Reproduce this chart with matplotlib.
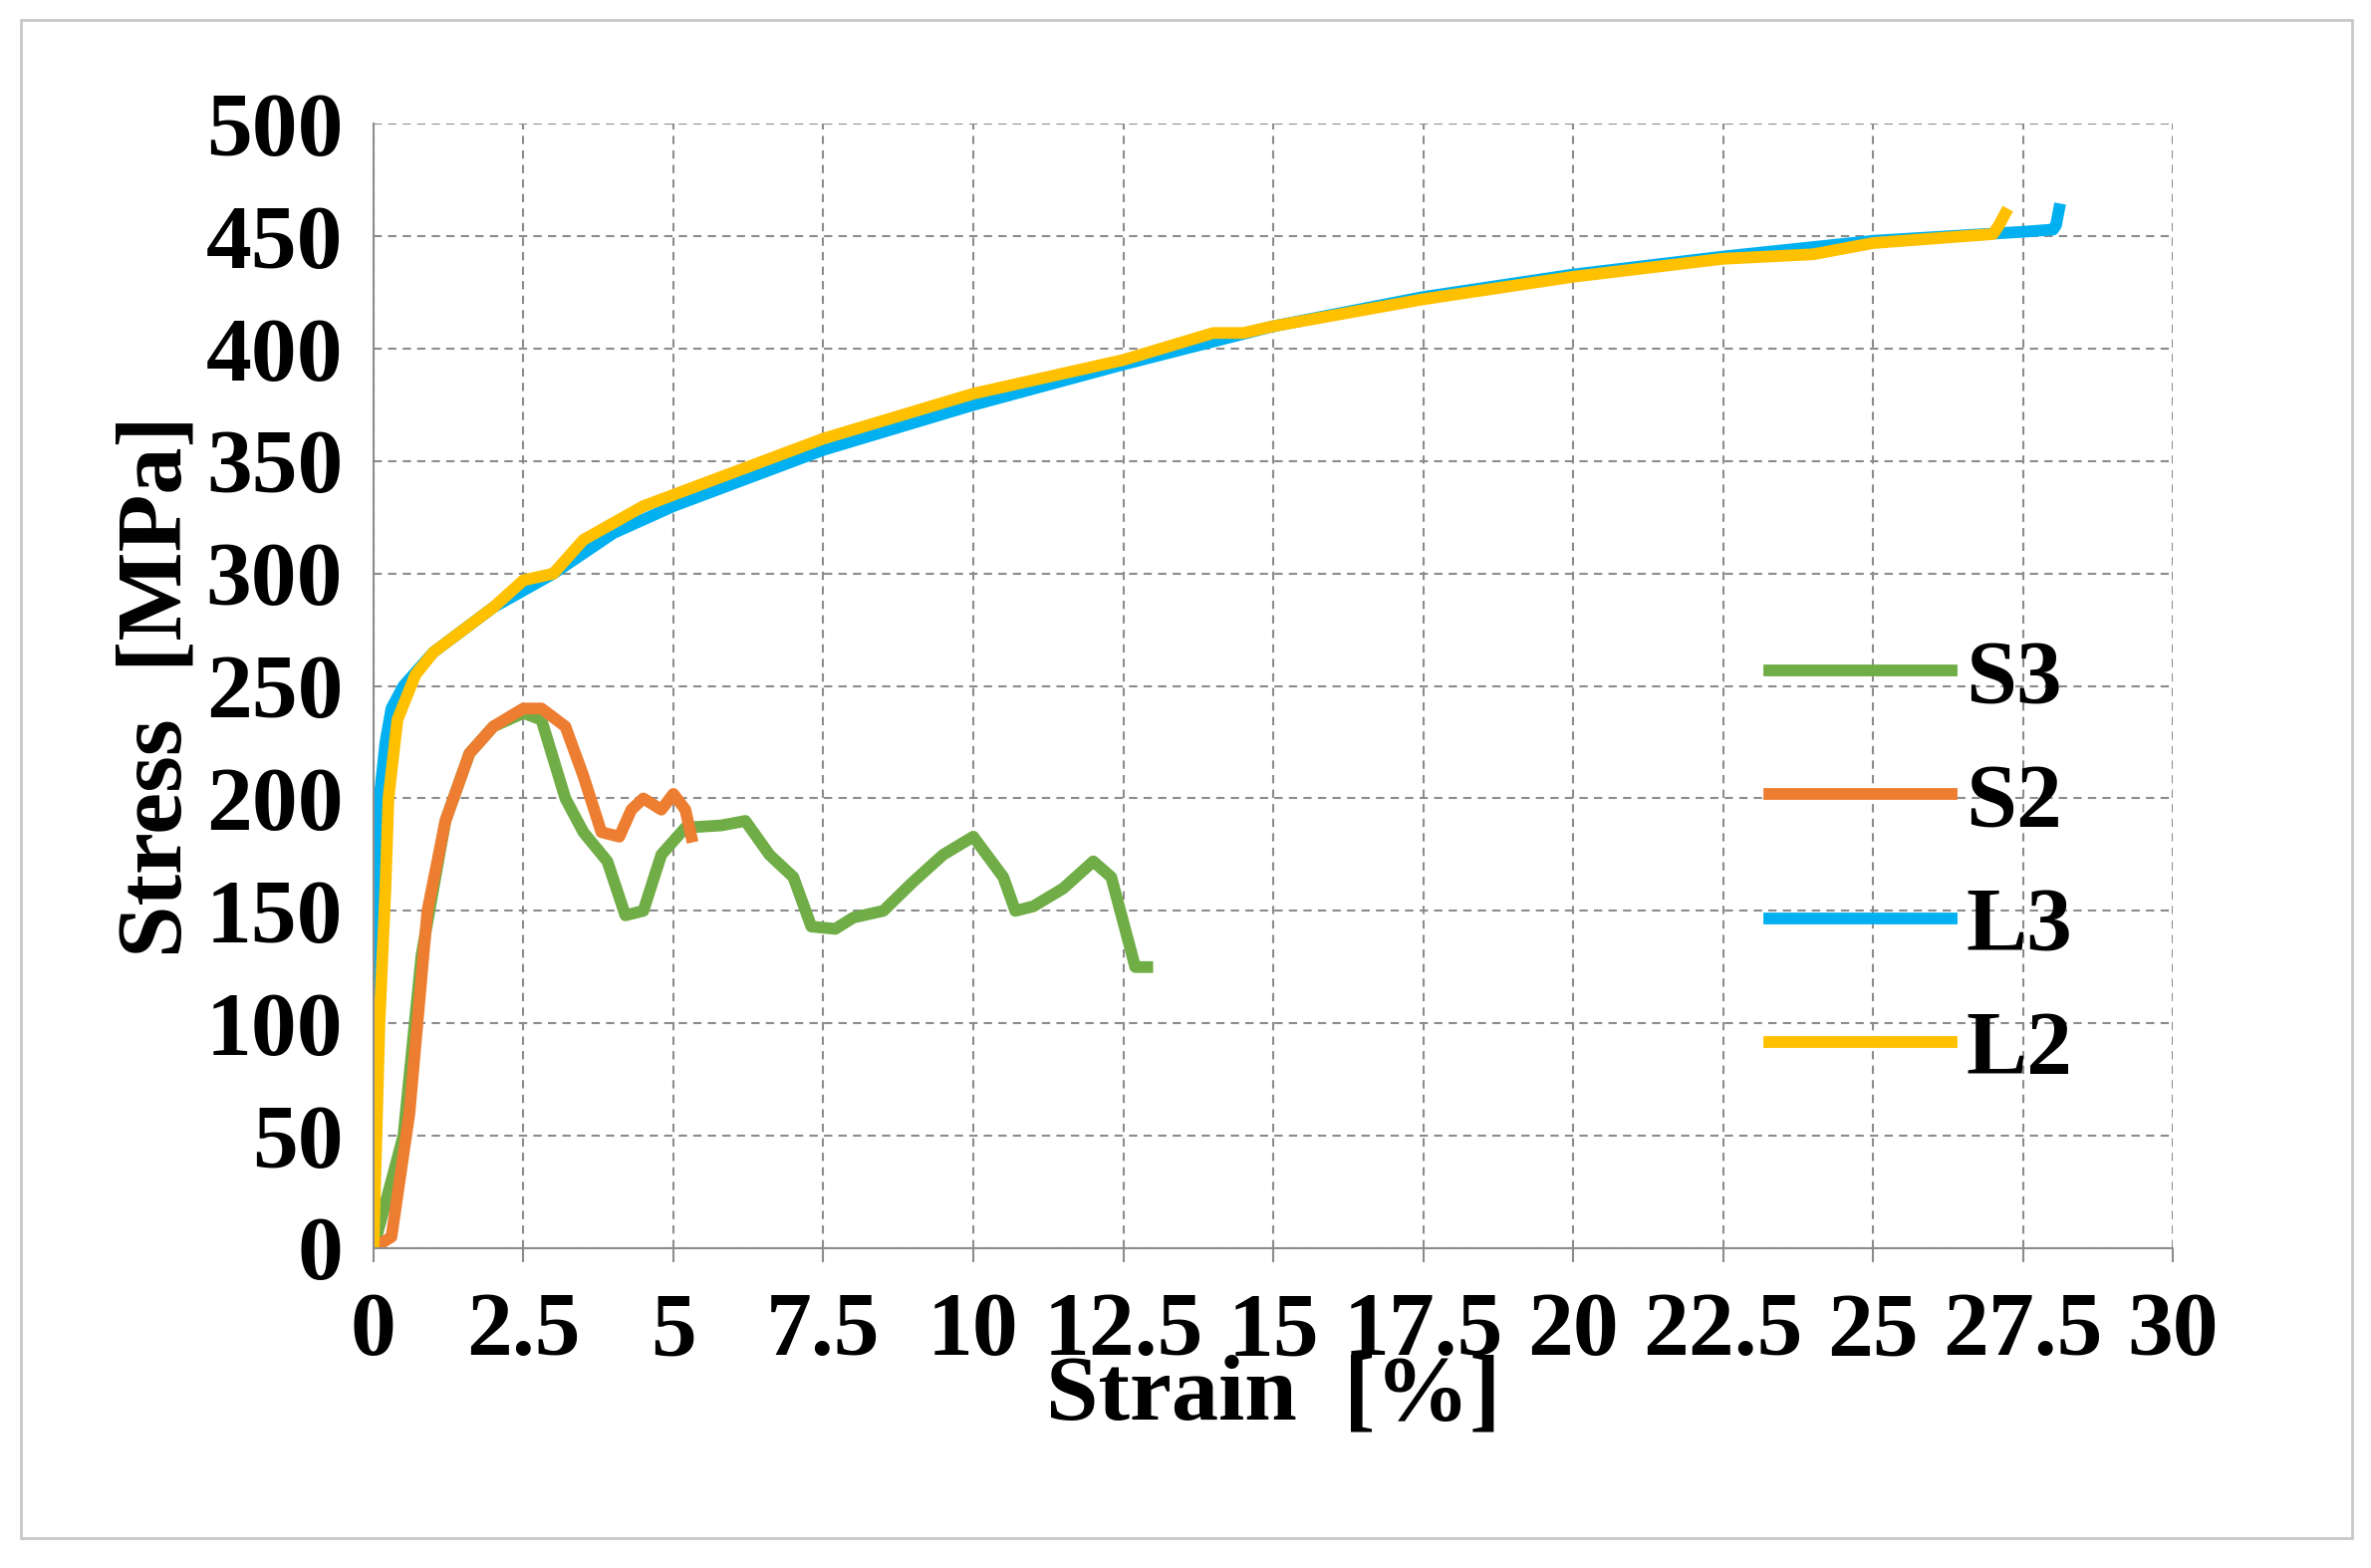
import matplotlib
matplotlib.use("Agg")
import matplotlib.pyplot as plt
from matplotlib.patches import Rectangle

l3_x = [0, 0.05, 0.1, 0.2, 0.3, 0.5, 1, 2, 3, 4, 5, 7.5, 10, 12.5, 15, 17.5, 20, 22.5, 25, 27.5, 28.0, 28.05, 28.1]
l3_y = [100, 170, 200, 225, 240, 250, 265, 285, 300, 318, 330, 355, 375, 393, 410, 423, 433, 441, 448, 452, 453, 455, 462]
l2_x = [0, 0.1, 0.2, 0.25, 0.4, 0.7, 1, 2, 2.5, 3, 3.5, 4.5, 5, 7.5, 10, 12.5, 14, 14.5, 15, 17.5, 20, 22.5, 24, 25, 27, 27.1, 27.2]
l2_y = [0, 100, 160, 200, 235, 255, 265, 285, 297, 300, 315, 330, 335, 360, 380, 395, 407, 407, 410, 422, 432, 440, 442, 447, 451, 455, 460]
s2_x = [0, 0.3, 0.6, 0.9, 1.2, 1.6, 2, 2.5, 2.8, 3.2, 3.5, 3.8, 4.1, 4.3, 4.5, 4.8, 5, 5.2, 5.3]
s2_y = [0, 5, 60, 150, 190, 220, 232, 240, 240, 232, 210, 185, 183, 195, 200, 195, 202, 195, 183]
s3_x = [0, 0.5, 0.8, 1.2, 1.6, 2, 2.5, 2.8, 3.2, 3.5, 3.9, 4.2, 4.5, 4.8, 5.2, 5.8, 6.2, 6.6, 7, 7.3, 7.7, 8, 8.5, 9, 9.5, 10, 10.5, 10.7, 11, 11.5, 12, 12.3, 12.5, 12.7, 12.9]
s3_y = [0, 50, 130, 190, 220, 232, 238, 235, 200, 185, 172, 148, 150, 175, 187, 188, 190, 175, 165, 143, 142, 147, 150, 163, 175, 183, 165, 150, 152, 160, 172, 165, 145, 125, 125]

x_ticks = [0, 2.5, 5, 7.5, 10, 12.5, 15, 17.5, 20, 22.5, 25, 27.5, 30]
x_labels = ["0", "2.5", "5", "7.5", "10", "12.5", "15", "17.5", "20", "22.5", "25", "27.5", "30"]
y_ticks = list(range(0, 501, 50))

plt.rcParams['font.family'] = ['Liberation Serif', 'DejaVu Serif']
fig = plt.figure(figsize=(23.8, 15.74), dpi=100)
fig.patches.append(Rectangle((0.009, 0.019), 0.983, 0.968, transform=fig.transFigure,
                             fill=False, edgecolor='#c8c8c8', linewidth=2))
ax = fig.add_axes([0.1575, 0.204, 0.759, 0.717])
lw = 8.5
ax.plot(s3_x, s3_y, color='#70AD47', lw=lw, label='S3')
ax.plot(s2_x, s2_y, color='#ED7D31', lw=lw, label='S2')
ax.plot(l3_x, l3_y, color='#00B0F0', lw=lw, label='L3')
ax.plot(l2_x, l2_y, color='#FFC000', lw=lw, label='L2')
ax.set_xlim(0, 30)
ax.set_ylim(0, 500)
ax.set_xticks(x_ticks)
ax.set_xticklabels(x_labels)
ax.set_yticks(y_ticks)
ax.grid(True, linestyle=(0, (4, 3)), color='#8c8c8c', linewidth=1.5)
for s in ['top', 'right']:
    ax.spines[s].set_visible(False)
for s in ['left', 'bottom']:
    ax.spines[s].set_color('#8c8c8c')
    ax.spines[s].set_linewidth(1.5)
ax.tick_params(axis='x', length=10, color='#8c8c8c', width=1.5, labelsize=66, pad=22)
ax.tick_params(axis='y', length=0, labelsize=66, pad=22)
for t in ax.get_xticklabels() + ax.get_yticklabels():
    t.set_fontweight('bold')
ax.set_xlabel('Strain  [%]', fontsize=68, fontweight='bold', labelpad=-14)
ax.set_ylabel('Stress  [MPa]', fontsize=68, fontweight='bold', labelpad=4)
leg = ax.legend(loc='center left', bbox_to_anchor=(0.73, 0.34), frameon=False,
                fontsize=66, handlelength=2.0, handletextpad=0.15, labelspacing=0.45)
for t in leg.get_texts():
    t.set_fontweight('bold')
fig.savefig('out.png', dpi=100)
